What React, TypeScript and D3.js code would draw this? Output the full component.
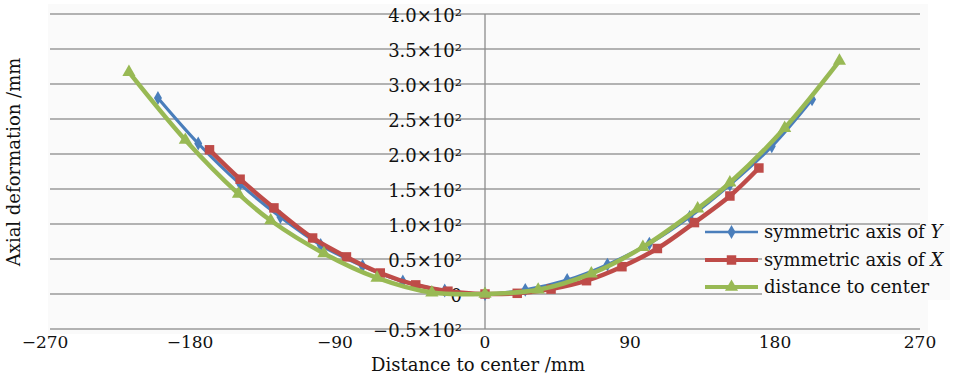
import * as d3 from "d3";

// series: distance from center (mm) vs axial deformation
const blueX = [-203, -178, -152, -127, -102, -76, -51, -25, 0, 25, 51, 76, 102, 127, 152, 178, 203];
const blueY = [280, 215, 157, 110, 70, 40, 18, 5, 0, 6, 20, 42, 72, 110, 156, 211, 278];

const redX = [-171, -152, -131, -107, -86, -65, -43, -23, 0, 20, 41, 63, 85, 107, 130, 152, 170];
const redY = [206, 164, 123, 80, 53, 30, 13, 4, 0, 1, 7, 19, 39, 65, 102, 140, 180];

const greenX = [-221, -186, -153, -133, -100, -67, -33, 0, 33, 66, 98, 132, 152, 186, 220];
const greenY = [317, 220, 143, 105, 58, 23, 2, 0, 6, 29, 67, 122, 159, 237, 333];

const xTicks = [-270, -180, -90, 0, 90, 180, 270];
const yTicks = [-50, 0, 50, 100, 150, 200, 250, 300, 350, 400];
const yTickLabels = ["\u22120.5\u00d710\u00b2", "0", "0.5\u00d710\u00b2", "1.0\u00d710\u00b2", "1.5\u00d710\u00b2",
  "2.0\u00d710\u00b2", "2.5\u00d710\u00b2", "3.0\u00d710\u00b2", "3.5\u00d710\u00b2", "4.0\u00d710\u00b2"];

const seriesNames = ["symmetric axis of ", "symmetric axis of ", "distance to center"];
const seriesItalic = ["Y", "X", ""];

const W = 953;
const H = 376;
const FONT = "'DejaVu Serif', serif";

const COLORS = ["#4a7ebb", "#be4b48", "#98b954"];

export default function App() {
  const x = d3.scaleLinear().domain([-270, 270]).range([50, 920]);
  const y = d3.scaleLinear().domain([-50, 400]).range([329, 14]);

  const line = d3
    .line<[number, number]>()
    .x((d) => x(d[0]))
    .y((d) => y(d[1]))
    .curve(d3.curveCatmullRom.alpha(0.5));

  const series = [
    { pts: blueX.map((v, i) => [v, blueY[i]] as [number, number]), sym: d3.symbolDiamond, size: 55, width: 3.2 },
    { pts: redX.map((v, i) => [v, redY[i]] as [number, number]), sym: d3.symbolSquare, size: 90, width: 4.5 },
    { pts: greenX.map((v, i) => [v, greenY[i]] as [number, number]), sym: d3.symbolTriangle, size: 75, width: 4.5 },
  ];

  const legendY = [232, 260, 287];

  return (
    <svg width={W} height={H} style={{ position: "absolute", left: 0, top: 0 }} fontFamily={FONT}>
      <rect x={0} y={0} width={W} height={H} fill="#fff" />
      <rect x={48} y={4} width={880} height={330} fill="#fafafa" />

      {/* grid lines */}
      {yTicks.map((t) => (
        <line key={t} x1={x(-270)} x2={x(270)} y1={y(t)} y2={y(t)} stroke="#9a9a9a" strokeWidth={1.3} />
      ))}

      {/* vertical axis at x = 0 */}
      <line x1={x(0)} x2={x(0)} y1={y(400)} y2={y(-50)} stroke="#8c8c8c" strokeWidth={1.3} />

      {/* y tick labels */}
      {yTicks.map((t, i) => (
        <text key={t} x={462} y={y(t) + 8} textAnchor="end" fontSize={18} fill="#111">
          {yTickLabels[i]}
        </text>
      ))}

      {/* series */}
      {series.map((s, i) => (
        <g key={i}>
          <path d={line(s.pts) ?? ""} fill="none" stroke={COLORS[i]} strokeWidth={s.width} strokeLinejoin="round" />
          {s.pts.map((p, j) => (
            <path
              key={j}
              transform={`translate(${x(p[0])},${y(p[1])})`}
              d={d3.symbol(s.sym, s.size)() ?? ""}
              fill={COLORS[i]}
            />
          ))}
        </g>
      ))}

      {/* legend */}
      <rect x={762} y={226} width={188} height={74} fill="#fafafa" />
      {legendY.map((ly, i) => (
        <g key={i}>
          <line x1={705} x2={758} y1={ly} y2={ly} stroke={COLORS[i]} strokeWidth={series[i].width - 0.5} />
          <path
            transform={`translate(731.5,${ly})`}
            d={d3.symbol(series[i].sym, series[i].size)() ?? ""}
            fill={COLORS[i]}
          />
          <text x={764} y={ly + 6} fontSize={18} fill="#111">
            {seriesNames[i]}
            {seriesItalic[i] && <tspan fontStyle="italic">{seriesItalic[i]}</tspan>}
          </text>
        </g>
      ))}

      {/* x tick labels */}
      {xTicks.map((t) => (
        <text key={t} x={x(t) - (t < 0 ? 5 : 0)} y={348} textAnchor="middle" fontSize={17} fill="#111">
          {t < 0 ? `\u2212${Math.abs(t)}` : String(t)}
        </text>
      ))}

      {/* axis titles */}
      <text x={478} y={371} textAnchor="middle" fontSize={18} fill="#111">
        Distance to center /mm
      </text>
      <text transform="translate(20,162) rotate(-90)" textAnchor="middle" fontSize={18} fill="#111">
        Axial deformation /mm
      </text>
    </svg>
  );
}
